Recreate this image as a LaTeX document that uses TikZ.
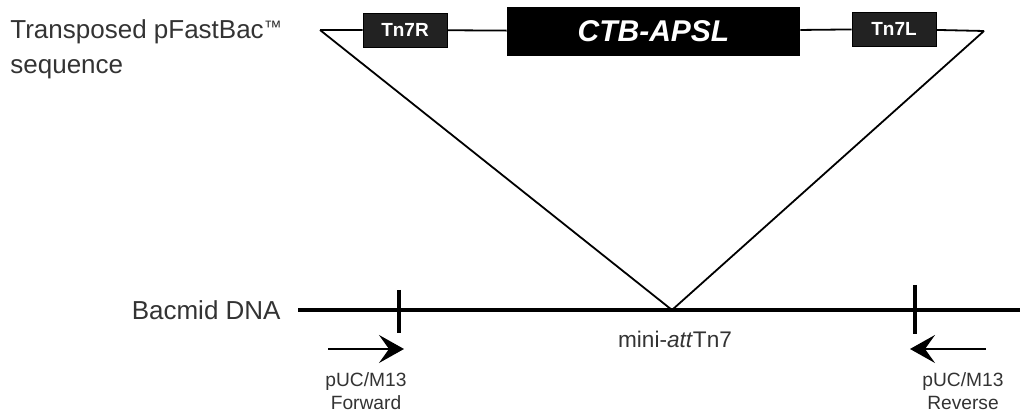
\documentclass[tikz,border=0pt]{standalone}
\usepackage{fontspec}
\setmainfont{Liberation Sans}
\usetikzlibrary{arrows.meta}
\definecolor{labelgray}{HTML}{333333}
\definecolor{boxgray}{HTML}{222222}

\begin{document}
\begin{tikzpicture}[x=0.5pt, y=-0.5pt,
    label/.style={text=labelgray, font=\fontsize{13}{17.5}\selectfont, inner sep=0pt},
    small/.style={text=labelgray, font=\fontsize{9.6}{11.5}\selectfont, align=center, inner sep=0pt},
    tnbox/.style={fill=boxgray, draw=black, text=white, font=\bfseries\fontsize{9.5}{10}\selectfont,
        minimum width=42pt, minimum height=17pt, inner sep=0pt},
    thin/.style={line width=0.9pt},
    primer/.style={line width=1pt, -{Stealth[length=12.5pt, width=14pt, inset=5pt]}}]
    \useasboundingbox (0,0) rectangle (1024,415);

    % Labels
    \node[label, anchor=north west, align=left] (tlabel) at (10,19)
        {Transposed pFastBac\raisebox{2.6pt}{\fontsize{9}{9}\selectfont\texttrademark}\\sequence};
    \node[label, anchor=base east] (blabel) at (281,320) {Bacmid DNA};

    % Insert
    \coordinate (lend) at (320,30);
    \coordinate (rend) at (984,31);
    \node[tnbox] (tn7r) at (405,30) {Tn7R};
    \node[fill=black, text=white, minimum width=146.5pt, minimum height=24.5pt, inner sep=0pt,
        font=\bfseries\itshape\fontsize{15}{16}\selectfont] (ctb) at (653.5,31.5) {CTB-APSL};
    \node[tnbox] (tn7l) at (894,29) {Tn7L};
    \draw[thin] (lend) -- (tn7r) -- (ctb) -- (tn7l) -- (rend);

    % Bacmid
    \coordinate (bstart) at (298,310);
    \coordinate (bstop) at (1020,310);
    \coordinate (att) at (672,310);
    \draw[line width=2.2pt] (bstart) -- (bstop);
    \draw[thin] (lend) -- (att) -- (rend);
    \node[label, anchor=base, font=\fontsize{11.3}{13}\selectfont] (attlabel) at (675,348) {mini-\textit{att}Tn7};

    % Primer sites
    \draw[line width=2pt] (399,290) -- (399,333);
    \draw[line width=2pt] (915,285) -- (915,334);
    \coordinate (fwa) at (328,349);
    \coordinate (fwb) at (404,349);
    \coordinate (rva) at (986,349);
    \coordinate (rvb) at (910,349);
    \draw[primer] (fwa) -- (fwb);
    \draw[primer] (rva) -- (rvb);
    \node[small] (fwlabel) at (366,391) {pUC/M13\\Forward};
    \node[small] (rvlabel) at (963,391) {pUC/M13\\Reverse};
\end{tikzpicture}
\end{document}
